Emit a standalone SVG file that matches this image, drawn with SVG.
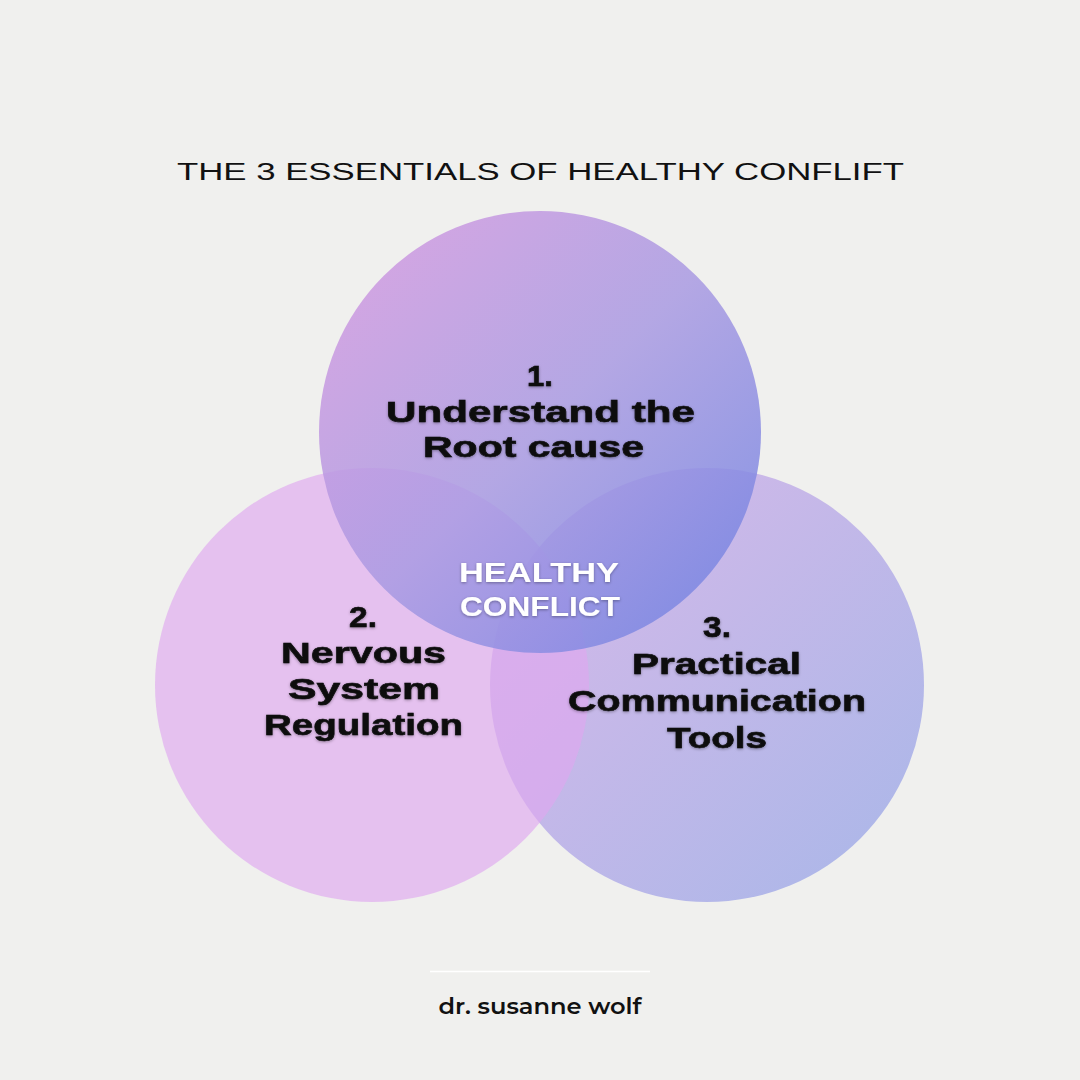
<svg xmlns="http://www.w3.org/2000/svg" width="1080" height="1080" viewBox="0 0 1080 1080">
<defs>
<linearGradient id="gTop" x1="0" y1="0" x2="1" y2="1">
<stop offset="0" stop-color="#d898e0"/>
<stop offset="0.5" stop-color="#a99ae2"/>
<stop offset="1" stop-color="#6c80e2"/>
</linearGradient>
<linearGradient id="gRight" x1="0" y1="0" x2="1" y2="1">
<stop offset="0" stop-color="#d8b4e8"/>
<stop offset="1" stop-color="#a2b2e8"/>
</linearGradient>
<filter id="sh" x="-10%" y="-30%" width="120%" height="160%">
<feDropShadow dx="0" dy="1" stdDeviation="1.6" flood-color="#000" flood-opacity="0.35"/>
</filter>
<style>
.lbl{font-family:"Liberation Sans","DejaVu Sans",sans-serif;font-weight:bold;font-size:30px;fill:#0a0a0a;stroke:#0a0a0a;stroke-width:0.6;text-anchor:middle;filter:url(#sh)}
.ctr{font-family:"Liberation Sans","DejaVu Sans",sans-serif;font-weight:bold;font-size:27px;fill:#ffffff;text-anchor:middle;filter:url(#sh)}
.title{font-family:"Liberation Sans","DejaVu Sans",sans-serif;font-size:23px;fill:#111;text-anchor:middle}
.foot{font-family:"Montserrat","Inter","Open Sans",sans-serif;font-weight:600;font-size:22px;fill:#111;text-anchor:middle}
</style>
</defs>
<rect width="1080" height="1080" fill="#f0f0ee"/>
<text class="title" x="540.5" y="180" textLength="727" lengthAdjust="spacingAndGlyphs">THE 3 ESSENTIALS OF HEALTHY CONFLIFT</text>
<g id="connectors"/>
<g id="node-3">
<circle cx="707" cy="685" r="217" fill="url(#gRight)" opacity="0.92"/>
</g>
<g id="node-2">
<circle cx="372" cy="685" r="217" fill="#dea8f0" opacity="0.65"/>
</g>
<g id="node-1">
<circle cx="540" cy="432" r="221" fill="url(#gTop)" opacity="0.85"/>
</g>
<g id="label-1">
<text class="lbl" x="540" y="386" textLength="26" lengthAdjust="spacingAndGlyphs">1.</text>
<text class="lbl" x="540.5" y="422" textLength="309" lengthAdjust="spacingAndGlyphs">Understand the</text>
<text class="lbl" x="533.5" y="457" textLength="221" lengthAdjust="spacingAndGlyphs">Root cause</text>
</g>
<g id="label-2">
<text class="lbl" x="363" y="627" textLength="28" lengthAdjust="spacingAndGlyphs">2.</text>
<text class="lbl" x="363.5" y="663" textLength="165" lengthAdjust="spacingAndGlyphs">Nervous</text>
<text class="lbl" x="364" y="699" textLength="152" lengthAdjust="spacingAndGlyphs">System</text>
<text class="lbl" x="363.5" y="735" textLength="199" lengthAdjust="spacingAndGlyphs">Regulation</text>
</g>
<g id="label-3">
<text class="lbl" x="717" y="637" textLength="28" lengthAdjust="spacingAndGlyphs">3.</text>
<text class="lbl" x="716.5" y="674" textLength="169" lengthAdjust="spacingAndGlyphs">Practical</text>
<text class="lbl" x="717" y="711" textLength="298" lengthAdjust="spacingAndGlyphs">Communication</text>
<text class="lbl" x="717" y="748" textLength="100" lengthAdjust="spacingAndGlyphs">Tools</text>
</g>
<g id="center">
<text class="ctr" x="539" y="582" textLength="160" lengthAdjust="spacingAndGlyphs">HEALTHY</text>
<text class="ctr" x="540" y="616" textLength="160" lengthAdjust="spacingAndGlyphs">CONFLICT</text>
</g>
<line x1="430" y1="971.5" x2="650" y2="971.5" stroke="#ffffff" stroke-width="1.5"/>
<text class="foot" x="540" y="1014" textLength="203" lengthAdjust="spacingAndGlyphs">dr. susanne wolf</text>
</svg>
